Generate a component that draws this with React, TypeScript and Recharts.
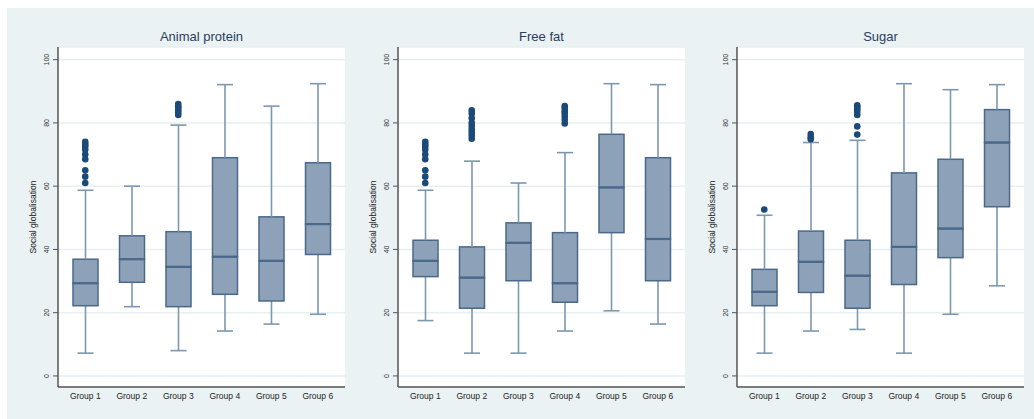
import React from "react";
import {
  ComposedChart,
  Bar,
  Line,
  XAxis,
  YAxis,
  CartesianGrid,
} from "recharts";

const groups = ["Group 1", "Group 2", "Group 3", "Group 4", "Group 5", "Group 6"];
const yTicks = [0, 20, 40, 60, 80, 100];

// Animal protein
const animalLow = [7.2, 21.9, 8, 14.2, 16.4, 19.5];
const animalQ1 = [22.2, 29.6, 21.9, 25.8, 23.7, 38.4];
const animalMedian = [29.3, 36.9, 34.5, 37.7, 36.4, 48];
const animalQ3 = [36.9, 44.3, 45.6, 69, 50.3, 67.4];
const animalHigh = [58.7, 60, 79.3, 92.1, 85.3, 92.4];
const animalOutliers = [
  [74, 73.2, 72.5, 71.5, 70, 68.5, 65, 63, 61],
  [],
  [86, 85.3, 84.7, 84, 83.3, 82.5],
  [],
  [],
  [],
];

// Free fat
const fatLow = [17.5, 7.2, 7.2, 14.2, 20.6, 16.4];
const fatQ1 = [31.4, 21.4, 30.1, 23.3, 45.3, 30.1];
const fatMedian = [36.4, 31.1, 42.1, 29.3, 59.6, 43.3];
const fatQ3 = [42.9, 40.8, 48.4, 45.3, 76.4, 69];
const fatHigh = [58.7, 67.9, 61, 70.6, 92.4, 92.1];
const fatOutliers = [
  [74, 73.2, 72.5, 71.5, 70, 68.5, 65, 63, 61],
  [84, 83, 81.5, 80, 79, 78, 77, 76, 75],
  [],
  [85.3, 84.5, 83.7, 83, 82, 81, 79.8],
  [],
  [],
];

// Sugar
const sugarLow = [7.2, 14.2, 14.7, 7.2, 19.5, 28.5];
const sugarQ1 = [22.2, 26.4, 21.4, 28.9, 37.4, 53.5];
const sugarMedian = [26.6, 36.1, 31.7, 40.8, 46.6, 73.8];
const sugarQ3 = [33.7, 45.8, 42.9, 64.2, 68.5, 84.2];
const sugarHigh = [50.8, 73.8, 74.5, 92.4, 90.5, 92.1];
const sugarOutliers = [
  [52.6],
  [76.5, 75.5, 74.8],
  [85.6, 85, 84.3, 83.5, 82.5, 78.9, 76.3],
  [],
  [],
  [],
];

const MAX_OUT = 9;
const outKeys = Array.from({ length: MAX_OUT }, (_, i) => `o${i}`);

const buildRows = (low, q1, med, q3, high, outs) =>
  groups.map((g, i) => {
    const row: any = {
      group: g,
      base: low[i],
      lowW: q1[i] - low[i],
      lowBox: med[i] - q1[i],
      highBox: q3[i] - med[i],
      upW: high[i] - q3[i],
    };
    outKeys.forEach((k, j) => {
      row[k] = outs[i][j] ?? null;
    });
    return row;
  });

const panels = [
  { title: "Animal protein", left: 0, rows: buildRows(animalLow, animalQ1, animalMedian, animalQ3, animalHigh, animalOutliers) },
  { title: "Free fat", left: 340, rows: buildRows(fatLow, fatQ1, fatMedian, fatQ3, fatHigh, fatOutliers) },
  { title: "Sugar", left: 679, rows: buildRows(sugarLow, sugarQ1, sugarMedian, sugarQ3, sugarHigh, sugarOutliers) },
];

const FONT = '"Liberation Sans", Arial, sans-serif';
const BOX_FILL = "#8da2b8";
const BOX_LINE = "#4a6889";
const WHISKER = "#7c97b2";
const DOT = "#1c4a78";
const CAP = 8;

const LowWhisker = (p: any) => {
  const cx = p.x + p.width / 2;
  const yb = p.y + p.height;
  return (
    <g>
      <line x1={cx} x2={cx} y1={p.y} y2={yb} stroke={WHISKER} strokeWidth={1.6} />
      <line x1={cx - CAP} x2={cx + CAP} y1={yb} y2={yb} stroke={WHISKER} strokeWidth={1.6} />
    </g>
  );
};

const UpWhisker = (p: any) => {
  const cx = p.x + p.width / 2;
  return (
    <g>
      <line x1={cx} x2={cx} y1={p.y} y2={p.y + p.height} stroke={WHISKER} strokeWidth={1.6} />
      <line x1={cx - CAP} x2={cx + CAP} y1={p.y} y2={p.y} stroke={WHISKER} strokeWidth={1.6} />
    </g>
  );
};

const BoxHalf = (p: any) => (
  <rect
    x={p.x}
    y={p.y}
    width={p.width}
    height={p.height}
    fill={BOX_FILL}
    stroke={BOX_LINE}
    strokeWidth={1.5}
  />
);

// upper half of the box; its bottom edge is the median
const BoxUpper = (p: any) => (
  <g>
    <BoxHalf {...p} />
    <line
      x1={p.x}
      x2={p.x + p.width}
      y1={p.y + p.height}
      y2={p.y + p.height}
      stroke={BOX_LINE}
      strokeWidth={2.2}
    />
  </g>
);

const YTick = (p: any) => (
  <text
    x={p.x}
    y={p.y}
    transform={`rotate(-90, ${p.x}, ${p.y})`}
    textAnchor="middle"
    fontSize={7}
    fontFamily={FONT}
    fill="#333"
  >
    {p.payload.value}
  </text>
);

const Panel = ({ title, left, rows }) => (
  <div style={{ position: "absolute", left, top: 0, width: 345, height: 419 }}>
    <div
      style={{
        position: "absolute",
        left: 58,
        top: 29,
        width: 287,
        textAlign: "center",
        fontFamily: FONT,
        fontSize: 13,
        lineHeight: "16px",
        color: "#2b3d5e",
      }}
    >
      {title}
    </div>
    <ComposedChart
      width={345}
      height={419}
      data={rows}
      margin={{ top: 47, right: 0, bottom: 0, left: 0 }}
    >
      <CartesianGrid vertical={false} stroke="#e7eff1" strokeWidth={1.5} fill="#ffffff" />
      <XAxis
        dataKey="group"
        height={32}
        padding={{ left: 4, right: 4 }}
        tickLine={false}
        tickSize={0}
        tickMargin={6}
        axisLine={{ stroke: "#555", strokeWidth: 1.5 }}
        tick={{ fontSize: 8.5, fill: "#222", fontFamily: FONT }}
        interval={0}
      />
      <YAxis
        width={58}
        domain={[-3.5, 104]}
        ticks={yTicks}
        tickSize={5}
        tickMargin={4}
        axisLine={{ stroke: "#555", strokeWidth: 1.5 }}
        tickLine={{ stroke: "#555" }}
        tick={<YTick />}
        label={{
          content: ({ viewBox }: any) => (
            <text
              x={viewBox.x + 36}
              y={viewBox.y + viewBox.height / 2}
              transform={`rotate(-90, ${viewBox.x + 36}, ${viewBox.y + viewBox.height / 2})`}
              textAnchor="middle"
              fontSize={8.5}
              fontFamily={FONT}
              fill="#222"
            >
              Social globalisation
            </text>
          ),
        }}
      />
      <Bar dataKey="base" stackId="b" barSize={25} fill="none" shape={() => <g />} isAnimationActive={false} />
      <Bar dataKey="lowW" stackId="b" barSize={25} shape={<LowWhisker />} isAnimationActive={false} />
      <Bar dataKey="lowBox" stackId="b" barSize={25} shape={<BoxHalf />} isAnimationActive={false} />
      <Bar dataKey="highBox" stackId="b" barSize={25} shape={<BoxUpper />} isAnimationActive={false} />
      <Bar dataKey="upW" stackId="b" barSize={25} shape={<UpWhisker />} isAnimationActive={false} />
      {outKeys.map((k) => (
        <Line
          key={k}
          dataKey={k}
          stroke="none"
          dot={{ r: 3.3, fill: DOT, stroke: "none" }}
          activeDot={false}
          legendType="none"
          isAnimationActive={false}
        />
      ))}
    </ComposedChart>
  </div>
);

export default function App() {
  return (
    <div style={{ position: "absolute", left: 0, top: 0, width: 1034, height: 419, background: "#fff" }}>
      <div style={{ position: "absolute", left: 7, top: 8, width: 1027, height: 411, background: "#eaf2f3" }} />
      {panels.map((p) => (
        <Panel key={p.title} title={p.title} left={p.left} rows={p.rows} />
      ))}
    </div>
  );
}
